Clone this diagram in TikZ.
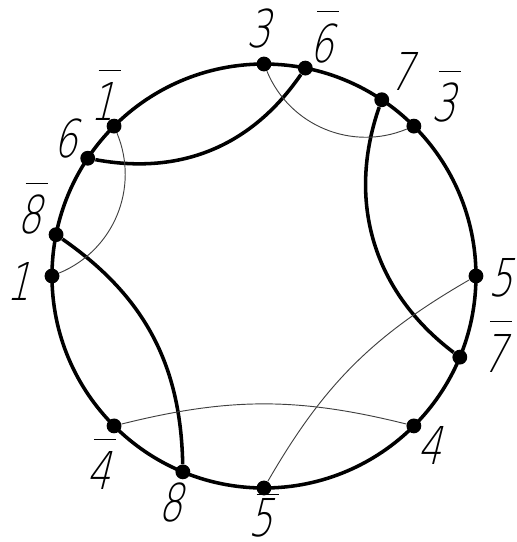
\documentclass[tikz,border=0pt]{standalone}
\usepackage{fontspec}
\newfontfamily\gostfont{DejaVu Sans ExtraLight}[FakeSlant=0.25,FakeStretch=0.72]
\newcommand{\ovbar}[2][0.96em]{\rlap{\kern0.15em\raisebox{#1}{\rule{0.42em}{0.55pt}}}#2}

\begin{document}
\begin{tikzpicture}[
    rim/.style={line width=1.9pt},
    chordthick/.style={line width=1.9pt},
    chordthin/.style={line width=0.5pt, black!75},
    dot/.style={circle, fill, inner sep=0pt, minimum size=0.28cm},
    lbl/.style={font=\gostfont\fontsize{28}{30}\selectfont, inner sep=0pt, text height=20pt, text depth=0pt}
]

    \useasboundingbox (-4.981,-5.019) rectangle (4.774,5.208);

    \coordinate (o) at (0,0);
    \draw[rim] (o) circle (4);

    \node[dot] (p3) at (90:4) {};
    \node[dot] (p6b) at (78.75:4) {};
    \node[dot] (p7) at (56.25:4) {};
    \node[dot] (p3b) at (45:4) {};
    \node[dot] (p5) at (0:4) {};
    \node[dot] (p7b) at (-22.5:4) {};
    \node[dot] (p4) at (-45:4) {};
    \node[dot] (p5b) at (-90:4) {};
    \node[dot] (p8) at (-112.5:4) {};
    \node[dot] (p4b) at (-135:4) {};
    \node[dot] (p1) at (180:4) {};
    \node[dot] (p8b) at (168.75:4) {};
    \node[dot] (p6) at (146.25:4) {};
    \node[dot] (p1b) at (135:4) {};

    \draw[chordthick] (p6) to[bend right=33] (p6b);
    \draw[chordthick] (p7) to[bend right=36] (p7b);
    \draw[chordthick] (p8) to[bend right=27] (p8b);

    \draw[chordthin] (p3) to[bend right=45] (p3b);
    \draw[chordthin] (p5) to[bend right=15] (p5b);
    \draw[chordthin] (p4) to[bend right=14] (p4b);
    \draw[chordthin] (p1) to[bend right=45] (p1b);

    \node[lbl] (l3) at (-0.11,4.66) {3};
    \node[lbl] (l6b) at (1.08,4.38) {\ovbar{6}};
    \node[lbl] (l7) at (2.59,3.85) {7};
    \node[lbl] (l3b) at (3.38,3.26) {\ovbar{3}};
    \node[lbl] (l5) at (4.46,-0.04) {5};
    \node[lbl] (l7b) at (4.34,-1.47) {\ovbar{7}};
    \node[lbl] (l4) at (3.13,-3.21) {4};
    \node[lbl] (l5b) at (-0.06,-4.56) {\ovbar[0.80em]{5}};
    \node[lbl] (l8) at (-1.77,-4.28) {8};
    \node[lbl] (l4b) at (-3.13,-3.68) {\ovbar{4}};
    \node[lbl] (l1) at (-4.64,-0.11) {1};
    \node[lbl] (l8b) at (-4.42,1.15) {\ovbar{8}};
    \node[lbl] (l6) at (-3.74,2.59) {6};
    \node[lbl] (l1b) at (-3.04,3.28) {\ovbar{1}};

\end{tikzpicture}
\end{document}
